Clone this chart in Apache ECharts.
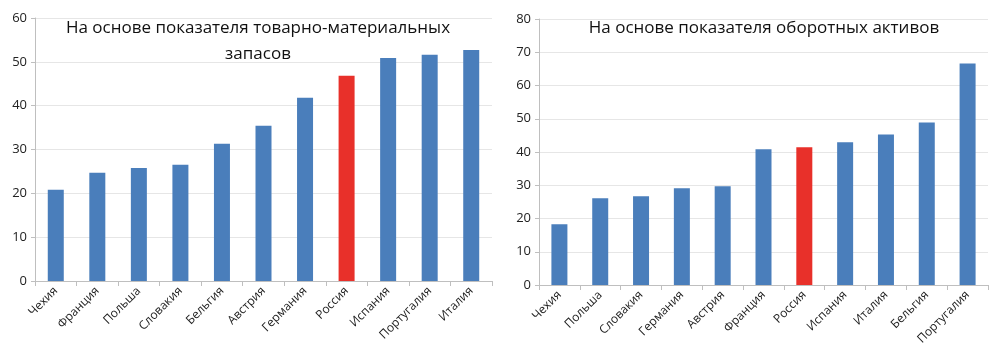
<!DOCTYPE html>
<html><head><meta charset="utf-8">
<script src="https://cdn.jsdelivr.net/npm/echarts@6/dist/echarts.min.js"></script>
<style>html,body{margin:0;padding:0;background:#fff}#c{width:992px;height:360px}</style>
</head><body><div id="c"></div>
<script>
const leftTitle = "На основе показателя товарно-материальных\nзапасов";
const leftCategories = ["Чехия","Франция","Польша","Словакия","Бельгия","Австрия","Германия","Россия","Испания","Португалия","Италия"];
const leftValues = [20.8, 24.7, 25.8, 26.5, 31.3, 35.4, 41.8, 46.8, 50.9, 51.6, 52.7];
const rightTitle = "На основе показателя оборотных активов";
const rightCategories = ["Чехия","Польша","Словакия","Германия","Австрия","Франция","Россия","Испания","Италия","Бельгия","Португалия"];
const rightValues = [18.3, 26.1, 26.7, 29.1, 29.7, 40.8, 41.4, 42.9, 45.3, 48.9, 66.6];
const highlight = "Россия";

const BLUE = "#4a7ebb", RED = "#e8302a";
const FONT = "Open Sans";
function colored(cats, vals){
  return vals.map((v,i)=>({value:v, itemStyle:{color: cats[i]===highlight ? RED : BLUE}}));
}
function xAxis(idx, cats){
  return {type:'category', gridIndex:idx, data:cats,
    axisLine:{lineStyle:{color:'#bfbfbf'}},
    axisTick:{show:true, length:5, lineStyle:{color:'#bfbfbf'}},
    axisLabel:{rotate:45, fontSize:12, color:'#222', fontFamily:FONT, margin:8, interval:0}};
}
function yAxis(idx, max){
  return {type:'value', gridIndex:idx, min:0, max:max, interval:10,
    axisLine:{show:true, lineStyle:{color:'#bfbfbf'}},
    axisTick:{show:true, length:4, lineStyle:{color:'#bfbfbf'}},
    splitLine:{lineStyle:{color:'#e6e6e6'}},
    axisLabel:{fontSize:13, color:'#222', fontFamily:FONT, margin:8}};
}
const chart = echarts.init(document.getElementById('c'));
chart.setOption({
  animation:false,
  title:[
    {text:leftTitle, left:253, top:10, textAlign:'center',
     textStyle:{fontSize:17, fontWeight:'normal', color:'#111', fontFamily:FONT, lineHeight:26}},
    {text:rightTitle, left:759, top:15, textAlign:'center',
     textStyle:{fontSize:17, fontWeight:'normal', color:'#111', fontFamily:FONT}}
  ],
  grid:[
    {left:35, right:500, top:18, bottom:79},
    {left:539, right:4, top:19, bottom:75}
  ],
  xAxis:[xAxis(0,leftCategories), xAxis(1,rightCategories)],
  yAxis:[yAxis(0,60), yAxis(1,80)],
  series:[
    {type:'bar', xAxisIndex:0, yAxisIndex:0, data:colored(leftCategories,leftValues), barWidth:16},
    {type:'bar', xAxisIndex:1, yAxisIndex:1, data:colored(rightCategories,rightValues), barWidth:16}
  ]
});
</script></body></html>
